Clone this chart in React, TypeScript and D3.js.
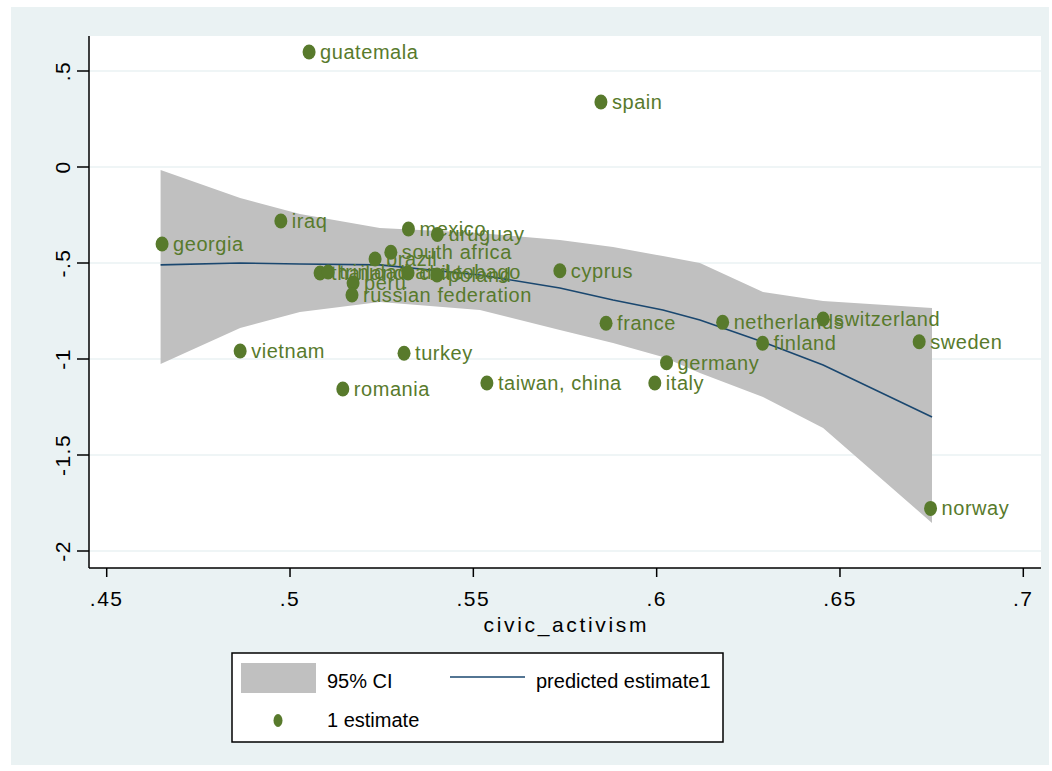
import React from "react";
import * as d3 from "d3";

// scatter: country, civic_activism, estimate
const countries = [
  "guatemala", "spain", "iraq", "georgia", "mexico", "uruguay", "south africa",
  "brazil", "thailand", "trinidad and tobago", "chile", "poland", "peru",
  "russian federation", "cyprus", "france", "netherlands", "switzerland",
  "finland", "sweden", "germany", "italy", "taiwan, china", "turkey",
  "vietnam", "romania", "norway",
];
const civic = [
  0.5052, 0.5848, 0.4975, 0.4651, 0.5323, 0.5402, 0.5275,
  0.5232, 0.5082, 0.5104, 0.5322, 0.5401, 0.5172,
  0.5169, 0.5736, 0.5862, 0.618, 0.6454,
  0.6289, 0.6716, 0.6027, 0.5995, 0.5537, 0.5311,
  0.4864, 0.5144, 0.6747,
];
const estimate = [
  0.599, 0.3385, -0.281, -0.401, -0.323, -0.351, -0.444,
  -0.479, -0.552, -0.547, -0.552, -0.5625, -0.604,
  -0.667, -0.54, -0.814, -0.809, -0.792,
  -0.918, -0.91, -1.019, -1.125, -1.125, -0.97,
  -0.958, -1.156, -1.778,
];

// fitted line and 95% CI
const fitX = [0.4647, 0.4864, 0.5027, 0.5245, 0.5518, 0.5736, 0.5881, 0.6017, 0.6118, 0.629, 0.6454, 0.6751];
const fitY = [-0.51, -0.5, -0.505, -0.51, -0.5625, -0.63, -0.693, -0.745, -0.797, -0.911, -1.031, -1.302];
const ciLow = [-1.026, -0.839, -0.755, -0.703, -0.745, -0.849, -0.917, -0.99, -1.073, -1.198, -1.359, -1.854];
const ciHigh = [-0.016, -0.161, -0.245, -0.318, -0.344, -0.38, -0.417, -0.464, -0.5, -0.651, -0.698, -0.734];

const xTicks = [0.45, 0.5, 0.55, 0.6, 0.65, 0.7];
const xTickLabels = [".45", ".5", ".55", ".6", ".65", ".7"];
const yTicks = [0.5, 0, -0.5, -1, -1.5, -2];
const yTickLabels = [".5", "0", "-.5", "-1", "-1.5", "-2"];

const W = 1052;
const H = 771;
const plot = { left: 89, right: 1041, top: 36, bottom: 568 };
const font = "'Liberation Sans', Arial, sans-serif";
const green = "#587a2c";
const navy = "#1a476f";
const bg = "#eaf2f3";

export default function App() {
  const x = d3.scaleLinear().domain([0.45, 0.7]).range([106.7, 1023.3]);
  const y = d3.scaleLinear().domain([0.5, -2]).range([71, 551]);

  const idx = d3.range(fitX.length);
  const area = d3
    .area<number>()
    .x((i) => x(fitX[i]))
    .y0((i) => y(ciLow[i]))
    .y1((i) => y(ciHigh[i]));
  const line = d3
    .line<number>()
    .x((i) => x(fitX[i]))
    .y((i) => y(fitY[i]));

  return (
    <svg
      width={W}
      height={H}
      style={{ position: "absolute", left: 0, top: 0, background: "#fff" }}
      fontFamily={font}
    >
      <rect x={11} y={7} width={1038} height={758} fill={bg} />
      <rect x={plot.left} y={plot.top} width={plot.right - plot.left} height={plot.bottom - plot.top} fill="#fff" />

      {/* grid */}
      {yTicks.map((t) => (
        <line key={t} x1={plot.left} x2={plot.right} y1={y(t)} y2={y(t)} stroke={bg} strokeWidth={1.5} />
      ))}

      {/* CI band and fit */}
      <path d={area(idx) || ""} fill="#c0c0c0" />
      <path d={line(idx) || ""} fill="none" stroke={navy} strokeWidth={1.6} />

      {/* points + labels */}
      {countries.map((c, i) => (
        <g key={c}>
          <ellipse cx={x(civic[i])} cy={y(estimate[i])} rx={6.5} ry={7.5} fill={green} />
          <text
            x={x(civic[i]) + 11}
            y={y(estimate[i]) + 7}
            fontSize={20}
            letterSpacing={0.55}
            fill={green}
          >
            {c}
          </text>
        </g>
      ))}

      {/* axes */}
      <line x1={plot.left} x2={plot.left} y1={plot.top} y2={plot.bottom} stroke="#000" strokeWidth={1.5} />
      <line x1={plot.left} x2={plot.right} y1={plot.bottom} y2={plot.bottom} stroke="#000" strokeWidth={1.5} />
      {yTicks.map((t, i) => (
        <g key={t}>
          <line x1={77} x2={plot.left} y1={y(t)} y2={y(t)} stroke="#000" strokeWidth={1.5} />
          <text
            transform={`translate(70,${y(t)}) rotate(-90)`}
            textAnchor="middle"
            fontSize={21}
            letterSpacing={1.5}
          >
            {yTickLabels[i]}
          </text>
        </g>
      ))}
      {xTicks.map((t, i) => (
        <g key={t}>
          <line x1={x(t)} x2={x(t)} y1={plot.bottom} y2={577} stroke="#000" strokeWidth={1.5} />
          <text x={x(t)} y={606} textAnchor="middle" fontSize={21} letterSpacing={1.5}>
            {xTickLabels[i]}
          </text>
        </g>
      ))}
      <text x={(plot.left + plot.right) / 2} y={632} textAnchor="middle" fontSize={21} textLength={163} lengthAdjust="spacing">
        civic_activism
      </text>

      {/* legend */}
      <rect x={232} y={653} width={491} height={89} fill="#fff" stroke="#000" strokeWidth={1.5} />
      <rect x={241} y={663} width={75} height={30} fill="#c0c0c0" />
      <text x={327} y={688} fontSize={20}>95% CI</text>
      <line x1={450} x2={525} y1={677} y2={677} stroke={navy} strokeWidth={1.6} />
      <text x={536} y={688} fontSize={20}>predicted estimate1</text>
      <ellipse cx={278} cy={720.5} rx={4.5} ry={6.5} fill={green} />
      <text x={327} y={727} fontSize={20}>1 estimate</text>
    </svg>
  );
}
